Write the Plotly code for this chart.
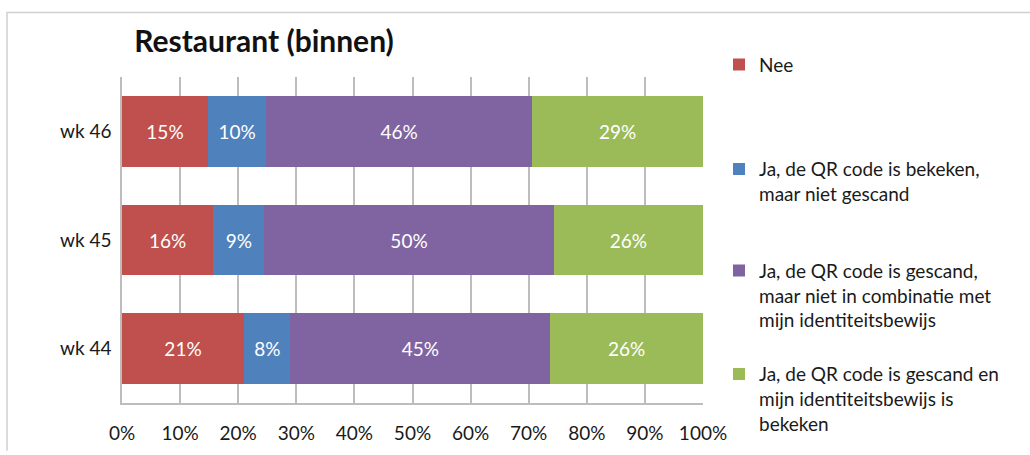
import plotly.graph_objects as go

categories = ["wk 44", "wk 45", "wk 46"]
series_names = [
    "Nee",
    "Ja, de QR code is bekeken,<br>maar niet gescand",
    "Ja, de QR code is gescand,<br>maar niet in combinatie met<br>mijn identiteitsbewijs",
    "Ja, de QR code is gescand en<br>mijn identiteitsbewijs is<br>bekeken",
]
nee = [21.0, 15.7, 14.8]
bekeken = [8.0, 8.8, 10.0]
gescand_zonder_id = [44.7, 49.8, 45.8]
gescand_met_id = [26.3, 25.7, 29.4]
x_ticks = [0, 10, 20, 30, 40, 50, 60, 70, 80, 90, 100]
x_tick_labels = ["0%", "10%", "20%", "30%", "40%", "50%", "60%", "70%", "80%", "90%", "100%"]

colors = ["#C0504D", "#4F81BD", "#8064A2", "#9BBB59"]
FONT = "Lato"
FS = 19

W, H = 1030, 455
L, R, T, B = 122, 703, 77, 411
pw, ph = R - L, B - T

def px(x):
    return (x - L) / pw

def py(y):
    return (B - y) / ph

fig = go.Figure()
values = [nee, bekeken, gescand_zonder_id, gescand_met_id]
legend_ids = ["legend", "legend2", "legend3", "legend4"]
for name, vals, col, lg in zip(series_names, values, colors, legend_ids):
    fig.add_trace(go.Bar(
        y=categories, x=vals, name=name, orientation="h",
        marker=dict(color=col, line=dict(width=0)),
        texttemplate="%{x:.0f}%", textposition="inside",
        insidetextanchor="middle",
        textfont=dict(color="white", size=FS, family=FONT),
        legend=lg,
    ))

legend_sym_centers = [61, 168, 272, 378]
legend_layouts = {}
for lg, cy in zip(legend_ids, legend_sym_centers):
    legend_layouts[lg] = dict(
        x=px(719), y=py(cy - 16), xanchor="left", yanchor="top",
        valign="top", bgcolor="rgba(0,0,0,0)", borderwidth=0,
        font=dict(family=FONT, size=FS, color="#1a1a1a"),
    )

fig.update_layout(
    width=W, height=H,
    margin=dict(l=L, r=W - R, t=T, b=H - B),
    paper_bgcolor="white", plot_bgcolor="white",
    barmode="stack", bargap=0.35,
    showlegend=True,
    title=dict(text="<b>Restaurant (binnen)</b>", x=264 / W, xref="container",
               xanchor="center", y=1 - 41 / H, yref="container", yanchor="middle",
               font=dict(family=FONT, size=30, color="#111111")),
    font=dict(family=FONT, size=FS, color="#1a1a1a"),
    xaxis=dict(range=[0, 100], tickvals=x_ticks, ticktext=x_tick_labels,
               showgrid=True, gridcolor="#BDBDBD", gridwidth=1.5,
               showline=True, linecolor="#BDBDBD", linewidth=1.5,
               zeroline=False, ticks="", ticklabelstandoff=12,
               tickfont=dict(family=FONT, size=FS, color="#1a1a1a"),
               fixedrange=True),
    yaxis=dict(categoryorder="array", categoryarray=categories,
               showgrid=False, showline=True, linecolor="#BDBDBD", linewidth=1.5,
               ticks="", ticklabelstandoff=5,
               tickfont=dict(family=FONT, size=FS, color="#1a1a1a"),
               fixedrange=True),
    **legend_layouts,
)

# outer chart frame (left and top border)
fig.add_shape(type="path", xref="paper", yref="paper",
              path=f"M {px(7)},{py(460)} L {px(7)},{py(11)} L {px(1035)},{py(11)}",
              line=dict(color="#D0D0D0", width=1.5))

fig.write_html("out.html", config={"displayModeBar": False},
               post_script="document.body.style.margin='0';")
